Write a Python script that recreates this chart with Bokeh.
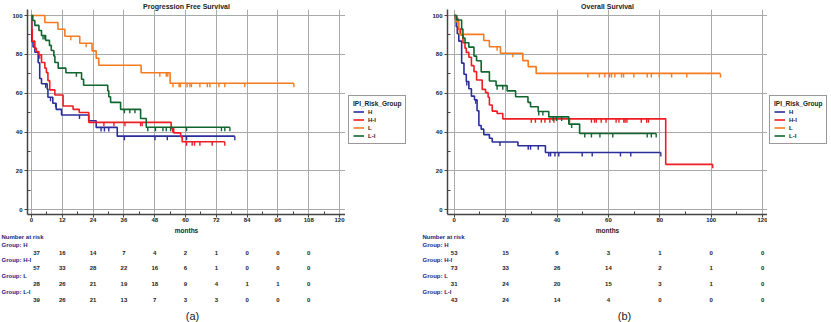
import numpy as np
from bokeh.plotting import figure
from bokeh.layouts import row, column
from bokeh.models import Range1d, FixedTicker, Legend, LegendItem
from bokeh.core.properties import value
from bokeh.embed import file_html
from bokeh.resources import INLINE

groups = ["H", "H-I", "L", "L-I"]
colors = ["#2b2e9a", "#ee1d23", "#f47b20", "#11652f"]

# ---------------- Progression Free Survival (a) ----------------
pfs_H_t = [0.1, 0.6, 1.3, 2.6, 3.2, 3.9, 6.1, 6.4, 8.3, 9.6, 11.7, 22.3, 25.2, 33.4]
pfs_H_s = [86.5, 83.8, 81.1, 75.7, 67.6, 64.9, 62.2, 57.9, 54.8, 51.7, 48.8, 45.8, 42.4, 37.9]
pfs_H_c = [5.5, 7.4, 9.4, 18.7, 27.1, 28.4, 30.1, 36.2, 48.1, 52.9, 60.4, 79.2]

pfs_HI_t = [0.1, 0.3, 1.3, 1.9, 2.9, 3.9, 5.2, 5.8, 6.4, 7.1, 9.1, 12.3, 16.2, 18.6, 22.3, 54.4, 55.4, 58.1, 58.7]
pfs_HI_s = [93.0, 86.8, 83.2, 81.5, 79.8, 75.8, 72.9, 70.6, 66.5, 61.7, 59.1, 53.4, 51.7, 50.1, 45.0, 41.9, 39.6, 37.6, 35.0]
pfs_HI_c = [3.2, 28.2, 32.1, 36.4, 42.5, 43.1, 55.0, 60.4, 62.6, 63.5, 65.6, 70.4, 75.3]

pfs_L_t = [5.2, 10.3, 13.0, 18.8, 23.6, 25.2, 26.2, 42.7, 54.0]
pfs_L_s = [96.4, 92.9, 89.3, 85.7, 81.8, 78.0, 74.4, 70.5, 65.1]
pfs_L_c = [15.3, 21.3, 50.0, 52.5, 53.1, 55.1, 57.5, 58.0, 60.6, 61.7, 62.3, 65.6, 68.5,
           69.5, 73.0, 75.3, 83.1, 102.2]

pfs_LI_t = [0.5, 1.3, 2.9, 3.9, 5.5, 7.0, 7.7, 8.7, 9.1, 10.4, 13.4, 19.5, 20.3, 29.7,
            30.1, 30.8, 34.7, 42.5, 44.7]
pfs_LI_s = [97.4, 94.9, 92.3, 89.7, 87.2, 84.6, 82.0, 79.2, 75.8, 72.9, 70.5, 67.2, 64.1,
            61.3, 58.2, 55.3, 51.7, 47.0, 42.5]
pfs_LI_c = [4.5, 5.2, 17.5, 36.2, 38.3, 40.3, 45.3, 48.3, 51.2, 52.5, 54.2, 60.4, 74.0, 75.3, 77.3]

pfs_risk_times = [0, 12, 24, 36, 48, 60, 72, 84, 96, 108]
pfs_risk_H = [37, 16, 14, 7, 4, 2, 1, 0, 0, 0]
pfs_risk_HI = [57, 33, 28, 22, 16, 6, 1, 0, 0, 0]
pfs_risk_L = [28, 26, 21, 19, 18, 9, 4, 1, 1, 0]
pfs_risk_LI = [39, 26, 21, 13, 7, 3, 3, 0, 0, 0]
pfs_xticks = [0, 12, 24, 36, 48, 60, 72, 84, 96, 108, 120]
pfs_xminor = [6, 18, 30, 42, 54, 66, 78, 90, 102, 114]

# ---------------- Overall Survival (b) ----------------
os_H_t = [0.5, 0.8, 1.2, 1.8, 2.9, 3.8, 4.7, 5.7, 6.7, 7.9, 8.9, 9.6, 10.5, 11.5, 13.7, 14.8, 24.8, 35.5]
os_H_s = [98.1, 94.3, 90.6, 86.8, 75.5, 69.8, 66.0, 62.3, 58.5, 56.6, 51.0, 43.4, 41.5, 38.7,
          36.8, 34.9, 33.0, 29.5]
os_H_c = [4.9, 8.4, 17.8, 28.8, 29.7, 32.7, 36.8, 37.5, 39.2, 40.7, 49.8, 53.7, 64.7, 68.7, 80.4]

os_HI_t = [0.5, 1.4, 1.6, 2.5, 3.4, 4.2, 4.7, 5.7, 6.7, 7.7, 8.7, 10.9, 12.2, 13.2, 13.7,
           14.8, 16.7, 18.9, 82.3]
os_HI_s = [98.6, 97.3, 93.0, 90.0, 86.0, 83.2, 81.0, 78.5, 74.2, 71.1, 66.8, 62.0, 60.3,
           57.9, 53.9, 50.8, 49.6, 46.8, 23.4]
os_HI_c = [30.0, 31.6, 33.9, 35.3, 37.2, 38.8, 44.9, 53.4, 54.6, 55.3, 57.2, 59.1, 63.0, 64.1,
           66.0, 66.5, 67.2, 72.8, 74.9, 75.6, 100.6]

os_L_t = [0.8, 1.8, 2.0, 11.5, 13.7, 18.0, 26.7, 28.8, 31.9]
os_L_s = [96.8, 93.5, 90.3, 87.1, 83.9, 80.6, 76.8, 73.7, 70.2]
os_L_c = [16.7, 22.8, 52.0, 56.5, 58.6, 60.4, 61.2, 62.5, 65.1, 65.9, 69.9, 75.1, 76.7, 79.8,
          84.6, 90.5, 103.6]

os_LI_t = [1.0, 2.9, 3.4, 4.2, 5.7, 7.7, 8.7, 10.5, 13.7, 16.3, 20.6, 23.9, 28.7, 29.7,
           32.7, 36.8, 44.6, 48.8]
os_LI_s = [97.7, 93.0, 88.4, 86.0, 83.7, 79.1, 76.7, 71.0, 66.3, 63.9, 61.2, 58.2, 55.3,
           53.0, 50.6, 47.8, 44.1, 39.3]
os_LI_c = [16.7, 18.9, 32.9, 34.5, 38.5, 39.8, 41.8, 45.7, 50.8, 53.4, 56.7, 61.7, 75.1, 76.7, 78.6]

os_risk_times = [0, 20, 40, 60, 80, 100, 120]
os_risk_H = [53, 15, 6, 3, 1, 0, 0]
os_risk_HI = [73, 33, 26, 14, 2, 1, 0]
os_risk_L = [31, 24, 20, 15, 3, 1, 0]
os_risk_LI = [43, 24, 14, 4, 0, 0, 0]
os_xticks = [0, 20, 40, 60, 80, 100, 120]
os_xminor = [10, 30, 50, 70, 90, 110]

y_ticks = [0, 20, 40, 60, 80, 100]
y_minor = [10, 30, 50, 70, 90]

FONT = "Liberation Sans"
NAVY = "#25257a"
KM_H = 226
TAB_H = 322 - KM_H


def km_steps(t, s, c):
    tf = [0.0] + list(t)
    sf = [100.0] + list(s)
    last = max(c) if len(c) else tf[-1]
    if last > tf[-1]:
        tf.append(last)
        sf.append(sf[-1])
    return tf, sf


def make_panel(title, curves, risks, risk_times, xticks, xminor, W, fl, fw, zero_px, scale,
               leg_gap, lab_px, tag, tag_px, first_off):
    x0 = -(zero_px - fl) / scale
    x1 = x0 + fw / scale
    frame_top, frame_bot = 9, 214
    ys = (209.3 - 15.0) / 100.0
    y0 = -(frame_bot - 209.3) / ys
    y1 = 100 + (15.0 - frame_top) / ys

    p = figure(width=fl + fw, height=KM_H, x_range=Range1d(x0, x1), y_range=Range1d(y0, y1),
               output_backend="svg", toolbar_location=None, title=title,
               min_border_left=fl, min_border_right=0,
               min_border_top=frame_top, min_border_bottom=KM_H - frame_bot)
    p.outline_line_color = None
    p.background_fill_color = "white"
    p.border_fill_color = "white"
    p.title.align = "center"
    p.title.text_font = FONT
    p.title.text_font_size = "7px"
    p.title.text_font_style = "bold"
    p.title.text_color = "#222222"
    p.title.standoff = 0

    p.xaxis.ticker = FixedTicker(ticks=xticks, minor_ticks=xminor)
    p.yaxis.ticker = FixedTicker(ticks=y_ticks, minor_ticks=y_minor)
    for ax in (p.xaxis[0], p.yaxis[0]):
        ax.axis_line_color = "#444444"
        ax.axis_line_width = 1.5
        ax.major_tick_line_color = "#444444"
        ax.minor_tick_line_color = "#444444"
        ax.major_tick_out = 3
        ax.major_tick_in = 0
        ax.minor_tick_in = 3
        ax.minor_tick_out = 0
        ax.major_label_text_font = FONT
        ax.major_label_text_font_size = "6px"
        ax.major_label_text_font_style = "bold"
        ax.major_label_text_color = "#222222"
    p.xaxis.major_label_standoff = 0
    p.yaxis.major_label_standoff = 2
    p.grid.grid_line_color = "#a9a9a9"
    p.grid.grid_line_width = 1

    dy = 4.0 / ys
    for g, col, (t, s, c) in zip(groups, colors, curves):
        tf, sf = km_steps(t, s, c)
        p.step(tf, sf, mode="after", line_color=col, line_width=1.6)
        tfa = np.array(tf)
        sfa = np.array(sf)
        ca = np.array(c)
        idx = np.searchsorted(tfa, ca, side="right") - 1
        lev = sfa[idx]
        p.segment(x0=ca, y0=lev, x1=ca, y1=lev - dy, line_color=col, line_width=1.4)

    # legend in its own small figure to the right of the plot frame
    # (the same curves are drawn there but the ranges keep them out of view)
    LW = W - fl - fw
    lf = figure(width=LW, height=KM_H, x_range=Range1d(-2, -1), y_range=Range1d(-2, -1),
                output_backend="svg", toolbar_location=None,
                min_border_left=0, min_border_right=0, min_border_top=0, min_border_bottom=0,
                x_axis_location=None, y_axis_location=None)
    lf.outline_line_color = None
    lf.grid.visible = False
    items = []
    for g, col, (t, s, c) in zip(groups, colors, curves):
        tf, sf = km_steps(t, s, c)
        r = lf.step(tf, sf, mode="after", line_color=col, line_width=1.6)
        items.append(LegendItem(label=g, renderers=[r]))
    leg = Legend(items=items, title="IPI_Risk_Group", location=(leg_gap, 70))
    leg.border_line_color = "#333333"
    leg.border_line_width = 1.5
    leg.padding = 4
    leg.spacing = 1
    leg.margin = 0
    leg.glyph_width = 11
    leg.glyph_height = 7
    leg.label_height = 7
    leg.label_standoff = 4
    leg.label_text_font = FONT
    leg.label_text_font_size = "6px"
    leg.label_text_font_style = "bold"
    leg.label_text_color = "#222222"
    leg.title_text_font = FONT
    leg.title_text_font_size = "6.5px"
    leg.title_text_font_style = "bold"
    leg.title_text_color = "#222222"
    leg.title_standoff = 1
    leg.background_fill_color = "white"
    lf.add_layout(leg)

    # axis title and number-at-risk table, same month scale as the plot above
    tx0 = -zero_px / scale
    tx1 = tx0 + W / scale
    t = figure(width=W, height=TAB_H, x_range=Range1d(tx0, tx1), y_range=Range1d(TAB_H, 0),
               output_backend="svg", toolbar_location=None,
               min_border_left=0, min_border_right=0, min_border_top=0, min_border_bottom=0,
               x_axis_location=None, y_axis_location=None)
    t.outline_line_color = None
    t.grid.visible = False
    t.text(x=[(x0 + x1) / 2], y=[3.5], text=["months"], text_font=value(FONT),
           text_font_size="6.5px", text_font_style="bold", text_color="#222222",
           text_align="center", text_baseline="middle")
    lab_x = tx0 + lab_px / scale
    t.text(x=[lab_x], y=[10], text=["Number at risk"], text_font=value(FONT),
           text_font_size="6px", text_font_style="bold", text_color=NAVY,
           text_align="left", text_baseline="middle")
    for k, (g, vals) in enumerate(zip(groups, risks)):
        t.text(x=[lab_x], y=[18 + 15.7 * k], text=["Group: " + g], text_font=value(FONT),
               text_font_size="6px", text_font_style="bold", text_color=NAVY,
               text_align="left", text_baseline="middle")
        t.text(x=risk_times[:1], y=[26 + 15.7 * k], text=[str(vals[0])], text_font=value(FONT),
               text_font_size="6px", text_font_style="bold", text_color="#222222",
               text_align="center", text_baseline="middle", x_offset=first_off)
        t.text(x=risk_times[1:], y=[26 + 15.7 * k] * (len(vals) - 1),
               text=[str(v) for v in vals[1:]], text_font=value(FONT),
               text_font_size="6px", text_font_style="bold", text_color="#222222",
               text_align="center", text_baseline="middle")
    t.text(x=[tx0 + tag_px / scale], y=[89], text=[tag], text_font=value(FONT),
           text_font_size="11px", text_color="#222222",
           text_align="center", text_baseline="middle")
    return column(row(p, lf, spacing=0), t, spacing=0)


pa = make_panel("Progression Free Survival",
                [(pfs_H_t, pfs_H_s, pfs_H_c), (pfs_HI_t, pfs_HI_s, pfs_HI_c),
                 (pfs_L_t, pfs_L_s, pfs_L_c), (pfs_LI_t, pfs_LI_s, pfs_LI_c)],
                [pfs_risk_H, pfs_risk_HI, pfs_risk_L, pfs_risk_LI], pfs_risk_times,
                pfs_xticks, pfs_xminor, W=415, fl=27, fw=318, zero_px=31.0, scale=2.567,
                leg_gap=3, lab_px=1, tag="(a)", tag_px=192, first_off=5)
pb = make_panel("Overall Survival",
                [(os_H_t, os_H_s, os_H_c), (os_HI_t, os_HI_s, os_HI_c),
                 (os_L_t, os_L_s, os_L_c), (os_LI_t, os_LI_s, os_LI_c)],
                [os_risk_H, os_risk_HI, os_risk_L, os_risk_LI], os_risk_times,
                os_xticks, os_xminor, W=416, fl=32, fw=320, zero_px=38.7, scale=2.57,
                leg_gap=2, lab_px=7, tag="(b)", tag_px=209, first_off=0)

layout = row(pa, pb, spacing=0)
open("out.html", "w").write(file_html(layout, INLINE))
